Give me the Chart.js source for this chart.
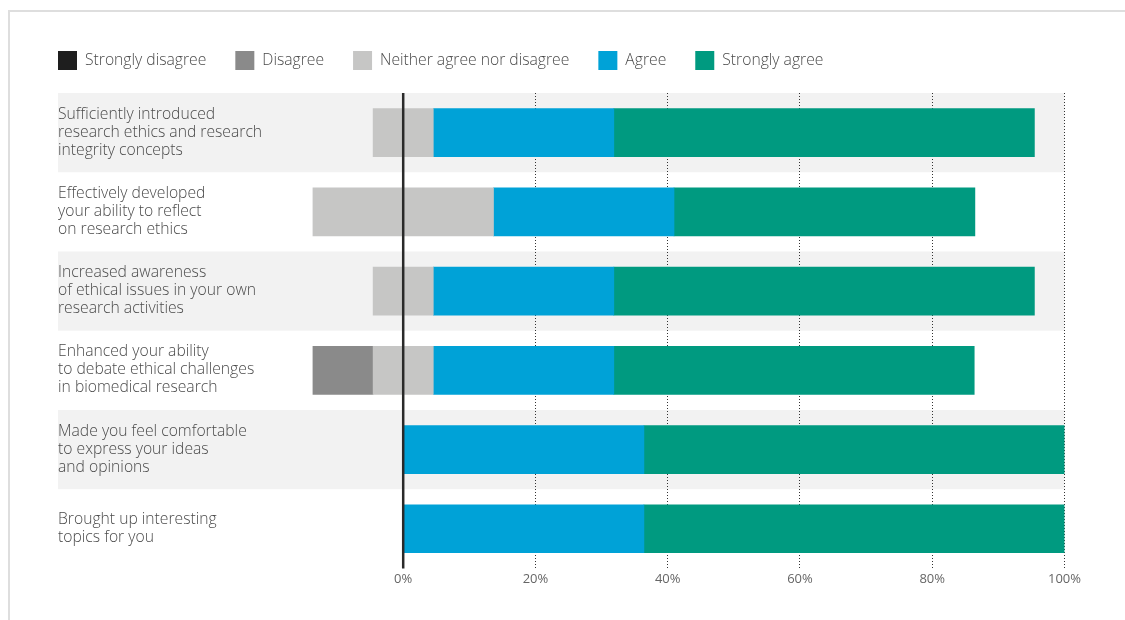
<!DOCTYPE html>
<html>
<head>
<meta charset="utf-8">
<script src="https://cdn.jsdelivr.net/npm/chart.js@4.4.1/dist/chart.umd.min.js"></script>
<style>
  html, body { margin: 0; padding: 0; background: #fff; }
  #frame { position: absolute; left: 8px; top: 10px; width: 1200px; height: 700px;
           border-top: 2px solid #dedede; border-left: 2px solid #dedede; }
  #myChart { position: absolute; left: 0; top: 0; }
</style>
</head>
<body>
<div id="frame"></div>
<canvas id="myChart" width="1125" height="620"></canvas>
<script>
// survey answers, share of respondents in %
let questions = [
  ['Sufficiently introduced', 'research ethics and research', 'integrity concepts'],
  ['Effectively developed', 'your ability to reflect', 'on research ethics'],
  ['Increased awareness', 'of ethical issues in your own', 'research activities'],
  ['Enhanced your ability', 'to debate ethical challenges', 'in biomedical research'],
  ['Made you feel comfortable', 'to express your ideas', 'and opinions'],
  ['Brought up interesting', 'topics for you']
];
let stronglyDisagree = [0, 0, 0, 0, 0, 0];
let disagree         = [0, 0, 0, 9.1, 0, 0];
let neither          = [9.1, 27.3, 9.1, 9.1, 0, 0];
let agree            = [27.3, 27.3, 27.3, 27.3, 36.4, 36.4];
let stronglyAgree    = [63.6, 45.5, 63.6, 54.5, 63.6, 63.6];
let xTicks = [0, 20, 40, 60, 80, 100];

let legendItems = [
  { text: 'Strongly disagree', color: '#1e1e1e' },
  { text: 'Disagree', color: '#8a8a8a' },
  { text: 'Neither agree nor disagree', color: '#c6c6c5' },
  { text: 'Agree', color: '#00a2d7' },
  { text: 'Strongly agree', color: '#009a80' }
];

const FONT = '"Open Sans", sans-serif';
const TEXT = '#4a4a4a';

let bandsAndLabels = {
  id: 'bandsAndLabels',
  beforeDraw(chart) {
    let { ctx, chartArea, scales } = chart;
    let rowH = (chartArea.bottom - chartArea.top) / questions.length;
    ctx.save();
    ctx.fillStyle = '#f2f2f2';
    questions.forEach((q, i) => {
      if (i % 2 === 0) {
        let yc = scales.y.getPixelForValue(i);
        ctx.fillRect(chartArea.left, yc - rowH / 2, chartArea.right - chartArea.left, rowH);
      }
    });
    ctx.restore();
  },
  afterDatasetsDraw(chart) {
    let { ctx, chartArea, scales } = chart;
    ctx.save();
    // labels
    ctx.font = '300 15.7px ' + FONT;
    ctx.fillStyle = TEXT;
    ctx.textBaseline = 'middle';
    ctx.textAlign = 'left';
    questions.forEach((q, i) => {
      let yc = scales.y.getPixelForValue(i) - 0.5;
      let top = yc - (q.length - 1) * 18 / 2;
      q.forEach((line, j) => ctx.fillText(line, chartArea.left, top + j * 18));
    });
    // zero line
    let x0 = scales.x.getPixelForValue(0);
    ctx.strokeStyle = '#2a2a2a';
    ctx.lineWidth = 2.5;
    ctx.beginPath();
    ctx.moveTo(x0, chartArea.top);
    ctx.lineTo(x0, chartArea.bottom);
    ctx.stroke();
    // legend
    let x = chartArea.left;
    legendItems.forEach(item => {
      ctx.fillStyle = item.color;
      ctx.fillRect(x, 51, 19, 19);
      ctx.fillStyle = TEXT;
      ctx.fillText(item.text, x + 27, 61);
      x += 27 + ctx.measureText(item.text).width + 29;
    });
    ctx.restore();
  }
};

let half = v => v / 2;
let neg = v => (v ? -v : null);
let ctx = document.getElementById('myChart').getContext('2d');
let chart = new Chart(ctx, {
  type: 'bar',
  data: {
    labels: questions.map(q => q.join(' ')),
    datasets: [
      { label: 'Neither (neg)', data: neither.map(v => neg(half(v))), backgroundColor: '#c6c6c5' },
      { label: 'Neither (pos)', data: neither.map(v => v ? half(v) : null), backgroundColor: '#c6c6c5' },
      { label: 'Agree', data: agree, backgroundColor: '#00a2d7' },
      { label: 'Strongly agree', data: stronglyAgree, backgroundColor: '#009a80' },
      { label: 'Disagree', data: disagree.map(neg), backgroundColor: '#8a8a8a' },
      { label: 'Strongly disagree', data: stronglyDisagree.map(neg), backgroundColor: '#1e1e1e' }
    ]
  },
  options: {
    indexAxis: 'y',
    responsive: false,
    animation: false,
    devicePixelRatio: 1,
    layout: { padding: { left: 58, right: 60.5, top: 93, bottom: 30 } },
    datasets: { bar: { barThickness: 48, borderWidth: 0 } },
    plugins: { legend: { display: false }, tooltip: { enabled: false } },
    scales: {
      x: {
        stacked: true,
        min: -52.2,
        max: 100,
        z: 1,
        afterBuildTicks: scale => { scale.ticks = xTicks.map(v => ({ value: v })); },
        ticks: {
          padding: 3,
          color: '#666',
          font: { family: FONT, size: 13 },
          callback: v => v + '%'
        },
        grid: {
          drawTicks: false,
          color: c => (c.tick && c.tick.value > 0) ? '#333' : 'rgba(0,0,0,0)',
          lineWidth: 1
        },
        border: { display: false, dash: [1, 2] }
      },
      y: {
        stacked: true,
        display: false
      }
    }
  },
  plugins: [bandsAndLabels]
});
</script>
</body>
</html>
